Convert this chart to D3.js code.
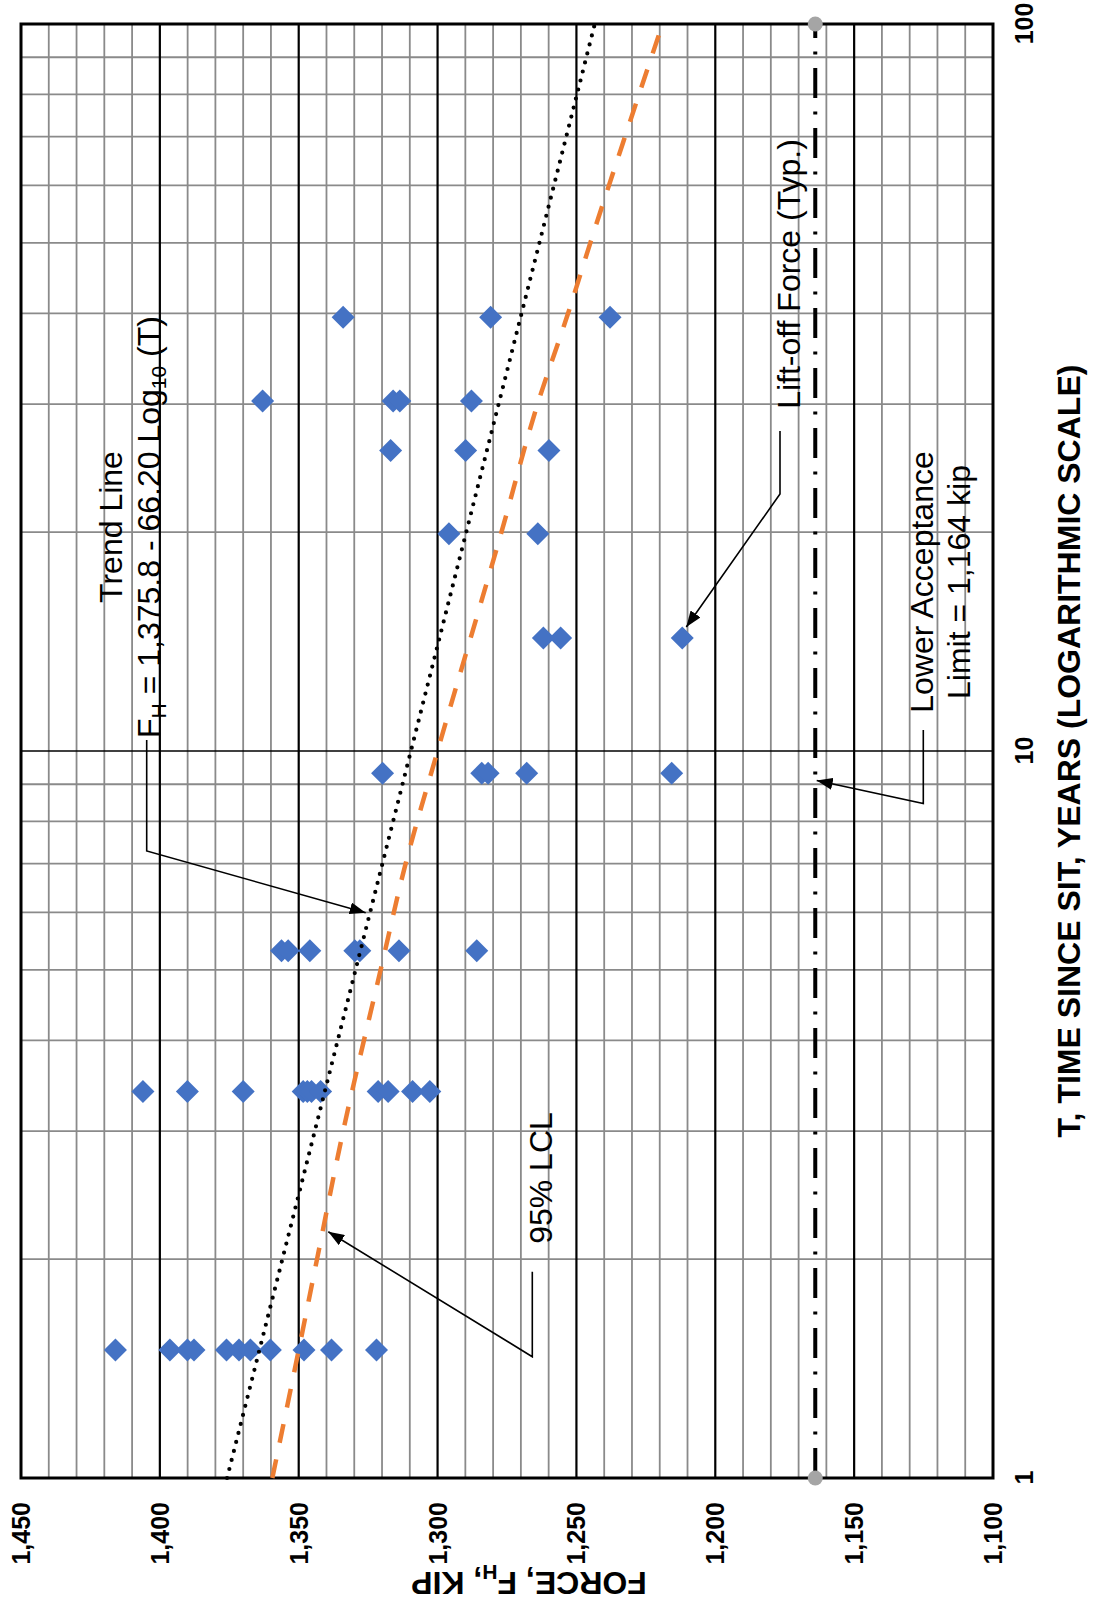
<!DOCTYPE html>
<html>
<head>
<meta charset="utf-8">
<script src="https://cdn.jsdelivr.net/npm/d3@7"></script>
<style>
  html, body { margin: 0; padding: 0; background: #ffffff; }
  svg { display: block; }
  text { font-family: "Liberation Sans", Arial, Helvetica, sans-serif; }
</style>
</head>
<body>
<svg id="chart" width="1094" height="1606"></svg>
<script>
// ---------------- DATA ----------------
const timeTicks = [1, 10, 100];
const forceTicks = [1100, 1150, 1200, 1250, 1300, 1350, 1400, 1450];
const timeMinor = [2, 3, 4, 5, 6, 7, 8, 9, 20, 30, 40, 50, 60, 70, 80, 90];
const forceMinor = [1110, 1120, 1130, 1140, 1160, 1170, 1180, 1190, 1210, 1220, 1230, 1240,
                    1260, 1270, 1280, 1290, 1310, 1320, 1330, 1340, 1360, 1370, 1380, 1390,
                    1410, 1420, 1430, 1440];

// Lift-off force measurements (T in years, F in kip)
const liftoffTime = [
  1.5, 1.5, 1.5, 1.5, 1.5, 1.5, 1.5, 1.5, 1.5, 1.5, 1.5,
  3.4, 3.4, 3.4, 3.4, 3.4, 3.4, 3.4, 3.4, 3.4, 3.4, 3.4,
  5.31, 5.31, 5.31, 5.31, 5.31, 5.31, 5.31,
  9.32, 9.32, 9.32, 9.32, 9.32,
  14.3, 14.3, 14.3,
  19.9, 19.9,
  25.9, 25.9, 25.9,
  30.3, 30.3, 30.3, 30.3,
  39.5, 39.5, 39.5
];
const liftoffForce = [
  1416.0, 1396.4, 1390.1, 1387.7, 1376.0, 1371.5, 1367.4, 1360.2, 1348.1, 1338.2, 1322.0,
  1406.1, 1390.1, 1370.0, 1348.4, 1346.9, 1345.4, 1342.1, 1321.4, 1317.8, 1309.0, 1302.8,
  1356.2, 1353.8, 1346.0, 1329.8, 1328.0, 1313.9, 1285.9,
  1319.8, 1284.1, 1281.8, 1267.9, 1215.7,
  1261.9, 1255.7, 1211.9,
  1295.9, 1263.9,
  1316.9, 1289.9, 1259.9,
  1363.0, 1316.0, 1313.6, 1287.8,
  1334.0, 1280.9, 1237.9
];

// Trend line (from the equation shown on the chart)
const trendTime = [1, 100];
const trendForce = [1375.8, 1243.4];

// 95% lower confidence limit
const lclTime  = [1, 1.5, 2, 3, 5, 7, 10, 20, 30, 40, 50, 70, 100];
const lclForce = [1359.5, 1350.0, 1343.4, 1334.0, 1320.5, 1311.5, 1300.0, 1277.0, 1264.0, 1253.0, 1245.0, 1232.5, 1219.0];

// Lower acceptance limit
const limitTime = [1, 100];
const limitForce = [1164, 1164];

// ---------------- LAYOUT ----------------
const svg = d3.select("#chart");
const W = 1454;   // time axis length (drawn vertically after rotation)
const H = 972;    // force axis length (drawn horizontally after rotation)
const originX = 21, originY = 1478;

const x = d3.scaleLog().domain([1, 100]).range([0, W]);
const y = d3.scaleLinear().domain([1450, 1100]).range([0, H]);

svg.append("rect").attr("width", 1094).attr("height", 1606).attr("fill", "#ffffff");

const defs = svg.append("defs");
defs.append("marker")
  .attr("id", "arrow")
  .attr("viewBox", "0 0 16 12")
  .attr("refX", 16).attr("refY", 6)
  .attr("markerWidth", 16).attr("markerHeight", 12)
  .attr("markerUnits", "userSpaceOnUse")
  .attr("orient", "auto")
  .append("path").attr("d", "M0,0L16,6L0,12Z").attr("fill", "#000");

const g = svg.append("g").attr("transform", `translate(${originX},${originY}) rotate(-90)`);

// grid: minor
const grid = g.append("g");
grid.selectAll(".fminor").data(forceMinor).join("line")
  .attr("class", "fminor")
  .attr("x1", 0).attr("x2", W)
  .attr("y1", d => y(d)).attr("y2", d => y(d))
  .attr("stroke", "#8a8a8a").attr("stroke-width", 1.8);
grid.selectAll(".tminor").data(timeMinor).join("line")
  .attr("class", "tminor")
  .attr("x1", d => x(d)).attr("x2", d => x(d))
  .attr("y1", 0).attr("y2", H)
  .attr("stroke", "#8a8a8a").attr("stroke-width", 1.8);
// grid: major
grid.selectAll(".fmajor").data(forceTicks.slice(1, -1)).join("line")
  .attr("class", "fmajor")
  .attr("x1", 0).attr("x2", W)
  .attr("y1", d => y(d)).attr("y2", d => y(d))
  .attr("stroke", "#000").attr("stroke-width", 2.2);
grid.selectAll(".tmajor").data([10]).join("line")
  .attr("class", "tmajor")
  .attr("x1", d => x(d)).attr("x2", d => x(d))
  .attr("y1", 0).attr("y2", H)
  .attr("stroke", "#000").attr("stroke-width", 1.6);

// frame
g.append("rect").attr("x", 0).attr("y", 0).attr("width", W).attr("height", H)
  .attr("fill", "none").attr("stroke", "#000").attr("stroke-width", 3);

// axes
const fontAxis = 25;
const xAxis = g.append("g").attr("transform", `translate(0,${H})`)
  .call(d3.axisBottom(x).tickValues(timeTicks).tickFormat(d3.format("d")).tickSize(0).tickPadding(0));
xAxis.select(".domain").remove();
xAxis.selectAll("text").attr("y", 40).attr("dy", null)
  .attr("font-size", fontAxis).attr("font-weight", "bold").attr("fill", "#000")
  .attr("font-family", "'Liberation Sans', Arial, sans-serif");

const yAxis = g.append("g")
  .call(d3.axisLeft(y).tickValues(forceTicks).tickFormat(d3.format(",")).tickSize(0).tickPadding(24));
yAxis.select(".domain").remove();
yAxis.selectAll("text").attr("dy", "0.34em")
  .attr("font-size", fontAxis).attr("font-weight", "bold").attr("fill", "#000")
  .attr("font-family", "'Liberation Sans', Arial, sans-serif");

// axis titles
g.append("text")
  .attr("x", W / 2).attr("y", H + 87)
  .attr("text-anchor", "middle")
  .attr("font-size", 32).attr("font-weight", "bold")
  .text("T, TIME SINCE SIT, YEARS (LOGARITHMIC SCALE)");

const yTitle = g.append("text")
  .attr("transform", `translate(-94,508) rotate(-90)`)
  .attr("text-anchor", "middle")
  .attr("font-size", 32).attr("font-weight", "bold");
yTitle.append("tspan").text("FORCE, F");
yTitle.append("tspan").attr("font-size", 21).attr("dy", 7).text("H");
yTitle.append("tspan").attr("dy", -7).text(", KIP");

// lower acceptance limit line
const line = d3.line().x(d => x(d[0])).y(d => y(d[1]));
g.append("path")
  .attr("d", line(d3.zip(limitTime, limitForce)))
  .attr("fill", "none").attr("stroke", "#000").attr("stroke-width", 4)
  .attr("stroke-dasharray", "30,13.5,3,13.5");
g.selectAll(".limdot").data(d3.zip(limitTime, limitForce)).join("circle")
  .attr("class", "limdot")
  .attr("cx", d => x(d[0])).attr("cy", d => y(d[1])).attr("r", 7.5)
  .attr("fill", "#a5a5a5");

// data points
const dSize = 11.5;
g.selectAll(".pt").data(d3.zip(liftoffTime, liftoffForce)).join("path")
  .attr("class", "pt")
  .attr("transform", d => `translate(${x(d[0])},${y(d[1])})`)
  .attr("d", `M0,${-dSize}L${dSize},0L0,${dSize}L${-dSize},0Z`)
  .attr("fill", "#4472C4");

// LCL curve
const curve = d3.line().x(d => x(d[0])).y(d => y(d[1])).curve(d3.curveMonotoneX);
g.append("path")
  .attr("d", curve(d3.zip(lclTime, lclForce)))
  .attr("fill", "none").attr("stroke", "#ED7D31").attr("stroke-width", 4.5)
  .attr("stroke-dasharray", "19,17");

// trend line
g.append("path")
  .attr("d", line(d3.zip(trendTime, trendForce)))
  .attr("fill", "none").attr("stroke", "#000").attr("stroke-width", 4.2)
  .attr("stroke-linecap", "round").attr("stroke-dasharray", "0,9.3");

// annotations
const ann = g.append("g").attr("font-size", 32).attr("fill", "#000").attr("text-anchor", "middle");
ann.append("text").attr("x", 951).attr("y", 101).text("Trend Line");
const eq = ann.append("text").attr("x", 951).attr("y", 139);
eq.append("tspan").text("F");
eq.append("tspan").attr("font-size", 21).attr("dy", 6).text("H");
eq.append("tspan").attr("dy", -6).text(" = 1,375.8 - 66.20 Log");
eq.append("tspan").attr("font-size", 21).attr("dy", 6).text("10");
eq.append("tspan").attr("dy", -6).text(" (T)");
ann.append("text").attr("x", 300).attr("y", 531).text("95% LCL");
ann.append("text").attr("x", 1204).attr("y", 779).text("Lift-off Force (Typ.)");
ann.append("text").attr("x", 896).attr("y", 912).text("Lower Acceptance");
ann.append("text").attr("x", 896).attr("y", 949).text("Limit = 1,164 kip");

// leader lines (local coordinates)
const leaders = [
  [[738, 125.7], [627, 125.7], [565.3, 344.7]],
  [[206.3, 511.3], [121.3, 511.3], [246.3, 307.3]],
  [[1047, 759], [984, 759], [851, 665.3]],
  [[748, 902.3], [674.5, 902.3], [697.5, 795.7]]
];
g.selectAll(".leader").data(leaders).join("polyline")
  .attr("class", "leader")
  .attr("points", d => d.map(p => p.join(",")).join(" "))
  .attr("fill", "none").attr("stroke", "#000").attr("stroke-width", 1.6)
  .attr("marker-end", "url(#arrow)");
</script>
</body>
</html>
